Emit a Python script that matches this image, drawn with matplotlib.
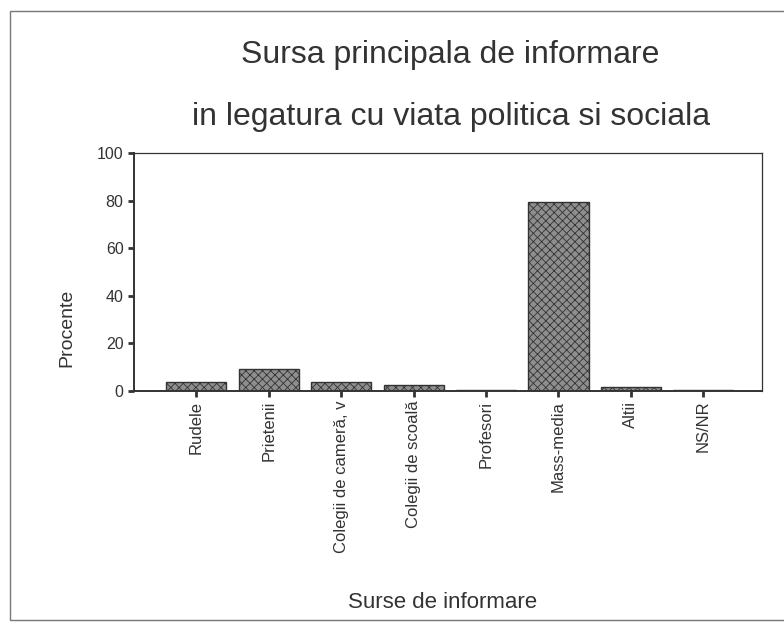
import matplotlib.pyplot as plt
import matplotlib.patches as mpatches
import numpy as np

plt.rcParams["font.family"] = ["Liberation Sans", "DejaVu Sans"]
plt.rcParams["hatch.linewidth"] = 0.6

# data (percent of respondents)
categories = [
    "Rudele",
    "Prietenii",
    "Colegii de cameră, v",
    "Colegii de scoală",
    "Profesori",
    "Mass-media",
    "Altii",
    "NS/NR",
]
percent = [3.8, 9.3, 3.6, 2.4, 0.3, 79.6, 1.6, 0.4]
y_ticks = [0, 20, 40, 60, 80, 100]

TEXT = "#333333"
W, H = 784, 623

fig = plt.figure(figsize=(W / 100, H / 100), dpi=100)
ax = fig.add_axes([134 / W, 1 - 391 / H, (762 - 134) / W, (391 - 153) / H])

x = np.arange(len(categories))
ax.bar(
    x,
    percent,
    width=0.83,
    color="#8e8e8e",
    edgecolor="#333333",
    hatch="xxxx",
    linewidth=1.0,
)

ax.set_xlim(-0.86, len(categories) - 1 + 0.81)
ax.set_ylim(0, 100)
ax.set_yticks(y_ticks)
ax.set_yticklabels([str(v) for v in y_ticks], fontsize=11.5, color=TEXT)
ax.set_xticks(x)
ax.set_xticklabels(categories, rotation=90, fontsize=12, color=TEXT)
ax.tick_params(axis="both", length=4, width=2, color="#333333")
ax.tick_params(axis="x", pad=3)

for side in ("left", "bottom", "top", "right"):
    ax.spines[side].set_color("#333333")
ax.spines["left"].set_linewidth(1.4)
ax.spines["bottom"].set_linewidth(1.4)
ax.spines["top"].set_linewidth(0.9)
ax.spines["right"].set_linewidth(0.9)

fig.text(67 / W, 1 - 328 / H, "Procente", fontsize=14, color=TEXT,
         rotation=90, ha="center", va="center")
fig.text(443 / W, 1 - 602 / H, "Surse de informare", fontsize=16,
         color=TEXT, ha="center", va="center")

fig.text(450 / W, 1 - 55 / H, "Sursa principala de informare", fontsize=23,
         color=TEXT, ha="center", va="center")
fig.text(451 / W, 1 - 117 / H, "in legatura cu viata politica si sociala",
         fontsize=23, color=TEXT, ha="center", va="center")

# outer frame of the scanned figure (open on the right)
frame = mpatches.Rectangle((10 / W, 1 - 620 / H), 800 / W, (620 - 11) / H,
                           transform=fig.transFigure, fill=False,
                           edgecolor="#777777", linewidth=1.0)
fig.patches.append(frame)

fig.savefig("out.png", dpi=100)
